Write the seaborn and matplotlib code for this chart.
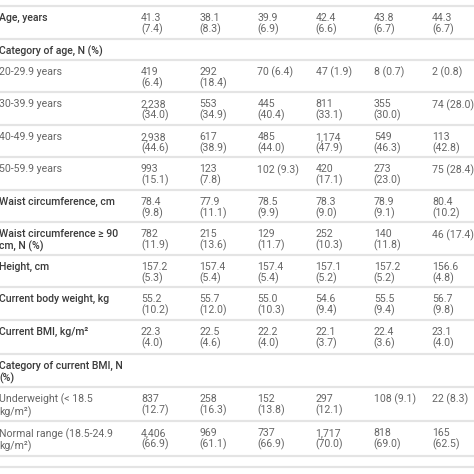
import matplotlib
matplotlib.use('Agg')
import matplotlib.pyplot as plt
import seaborn as sns

# Table content
ROW_LABELS = [
    'Age, years',
    'Category of age, N (%)',
    '20-29.9 years',
    '30-39.9 years',
    '40-49.9 years',
    '50-59.9 years',
    'Waist circumference, cm',
    'Waist circumference \u2265 90\ncm, N (%)',
    'Height, cm',
    'Current body weight, kg',
    'Current BMI, kg/m\u00b2',
    'Category of current BMI, N\n(%)',
    'Underweight (< 18.5\nkg/m\u00b2)',
    'Normal range (18.5-24.9\nkg/m\u00b2)',
]
# header rows are drawn darker / heavier, sub-category rows lighter
ROW_IS_HEADER = [True, True, False, False, False, False, True, True,
                 True, True, True, True, False, False]

COL1 = ['41.3\n(7.4)', '', '419\n(6.4)', '2,238\n(34.0)', '2,938\n(44.6)', '993\n(15.1)',
        '78.4\n(9.8)', '782\n(11.9)', '157.2\n(5.3)', '55.2\n(10.2)', '22.3\n(4.0)', '',
        '837\n(12.7)', '4,406\n(66.9)']
COL2 = ['38.1\n(8.3)', '', '292\n(18.4)', '553\n(34.9)', '617\n(38.9)', '123\n(7.8)',
        '77.9\n(11.1)', '215\n(13.6)', '157.4\n(5.4)', '55.7\n(12.0)', '22.5\n(4.6)', '',
        '258\n(16.3)', '969\n(61.1)']
COL3 = ['39.9\n(6.9)', '', '70 (6.4)', '445\n(40.4)', '485\n(44.0)', '102 (9.3)',
        '78.5\n(9.9)', '129\n(11.7)', '157.4\n(5.4)', '55.0\n(10.3)', '22.2\n(4.0)', '',
        '152\n(13.8)', '737\n(66.9)']
COL4 = ['42.4\n(6.6)', '', '47 (1.9)', '811\n(33.1)', '1,174\n(47.9)', '420\n(17.1)',
        '78.3\n(9.0)', '252\n(10.3)', '157.1\n(5.2)', '54.6\n(9.4)', '22.1\n(3.7)', '',
        '297\n(12.1)', '1,717\n(70.0)']
COL5 = ['43.8\n(6.7)', '', '8 (0.7)', '355\n(30.0)', '549\n(46.3)', '273\n(23.0)',
        '78.9\n(9.1)', '140\n(11.8)', '157.2\n(5.2)', '55.5\n(9.4)', '22.4\n(3.6)', '',
        '108 (9.1)', '818\n(69.0)']
COL6 = ['44.3\n(6.7)', '', '2 (0.8)', '74 (28.0)', '113\n(42.8)', '75 (28.4)',
        '80.4\n(10.2)', '46 (17.4)', '156.6\n(4.8)', '56.7\n(9.8)', '23.1\n(4.0)', '',
        '22 (8.3)', '165\n(62.5)']
COLUMNS = [COL1, COL2, COL3, COL4, COL5, COL6]

# Style
FONT_NAME = 'Roboto'
FONT_SIZE = 7.6
HEADER_COLOR = '#3a3a3a'
VALUE_COLOR = '#666666'
LINE_COLOR = '#e4e4e4'

sns.set_theme(style='white')
plt.rcParams['font.family'] = [FONT_NAME, 'DejaVu Sans']

W = H = 474
fig = plt.figure(figsize=(W / 100, H / 100), dpi=100)
ax = fig.add_axes([0, 0, 1, 1])
ax.set_xlim(0, W)
ax.set_ylim(H, 0)
ax.axis('off')

TOP = 6
LINE_H = 11.25
PAD = 10
COL_X0 = 141
COL_STEP = 58.2


def n_lines(i):
    texts = [ROW_LABELS[i]] + [c[i] for c in COLUMNS]
    return max(t.count('\n') + 1 for t in texts)


y = TOP
ax.axhline(y, color=LINE_COLOR, lw=1.6)
for i, label in enumerate(ROW_LABELS):
    h = PAD + LINE_H * n_lines(i)
    if '\u00b2' in label:
        h += 2
    ty = y + 7
    ax.text(-1, ty, label, va='top', ha='left', fontsize=FONT_SIZE,
            linespacing=1.12,
            color=HEADER_COLOR if ROW_IS_HEADER[i] else VALUE_COLOR,
            fontweight='medium' if ROW_IS_HEADER[i] else 'normal')
    for j, col in enumerate(COLUMNS):
        if col[i]:
            ax.text(COL_X0 + COL_STEP * j, ty, col[i], va='top', ha='left',
                    fontsize=FONT_SIZE, linespacing=1.08, color=VALUE_COLOR)
    y += h
    ax.axhline(y, color=LINE_COLOR, lw=1.6)

# start of the next (cut-off) row
ax.axhline(y + 11, color=LINE_COLOR, lw=1.6)

fig.savefig('out.png', dpi=100, facecolor='white')
